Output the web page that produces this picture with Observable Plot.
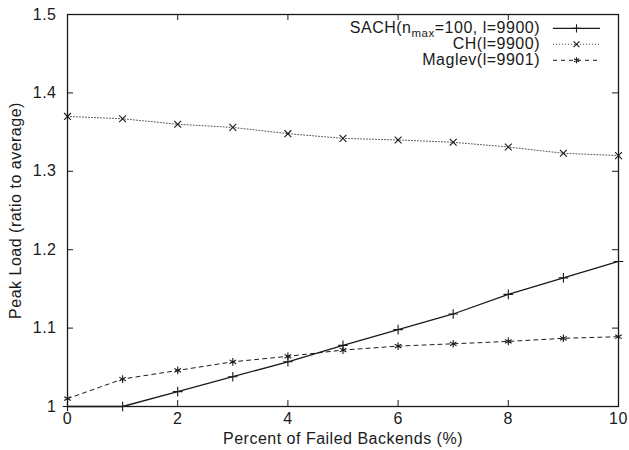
<!DOCTYPE html>
<html>
<head>
<meta charset="utf-8">
<script src="https://cdn.jsdelivr.net/npm/d3@7"></script>
<script src="https://cdn.jsdelivr.net/npm/@observablehq/plot@0.6"></script>
<style>
  html, body { margin: 0; padding: 0; background: #fff; }
</style>
</head>
<body>
<div id="chart"></div>
<script>
const failedPct = [0, 1, 2, 3, 4, 5, 6, 7, 8, 9, 10];
const sach   = [1.000, 1.000, 1.019, 1.038, 1.057, 1.078, 1.098, 1.118, 1.143, 1.164, 1.185];
const ch     = [1.370, 1.367, 1.360, 1.356, 1.348, 1.342, 1.340, 1.337, 1.331, 1.323, 1.320];
const maglev = [1.010, 1.035, 1.046, 1.057, 1.064, 1.072, 1.077, 1.080, 1.083, 1.087, 1.089];
const xTicks = [0, 2, 4, 6, 8, 10];
const yTicks = [1.0, 1.1, 1.2, 1.3, 1.4, 1.5];
const seriesNames = ["SACH", "CH", "Maglev"];

const W = 629, H = 450;
const mt = 14, mr = 11, mb = 44, ml = 67;
const pw = W - ml - mr, ph = H - mt - mb;
const ink = "#1a1a1a";
const FS = 16;
const LS = "0.5px";
const FONT = "'Liberation Sans', Arial, Helvetica, sans-serif";

const rows = failedPct.map((x, i) => ({x, sach: sach[i], ch: ch[i], maglev: maglev[i]}));

const plot = Plot.plot({
  width: W, height: H,
  marginTop: mt, marginRight: mr, marginBottom: mb, marginLeft: ml,
  style: {fontSize: FS + "px", fontFamily: FONT, color: ink, background: "#fff", letterSpacing: LS},
  x: {domain: [0, 10]},
  y: {domain: [1, 1.5]},
  marks: [
    Plot.axisX({ticks: xTicks, tickSize: 0, tickPadding: 6, tickFormat: d => String(d),
      label: "Percent of Failed Backends (%)", labelAnchor: "center", labelOffset: 37, labelArrow: "none"}),
    Plot.axisY({ticks: yTicks, tickSize: 0, tickPadding: 11, tickFormat: d => String(+d.toFixed(1)),
      label: "Peak Load (ratio to average)", labelAnchor: "center", labelOffset: 58, labelArrow: "none"}),
    // inward ticks on all four sides
    Plot.tickY(yTicks, {y: d => d, insetRight: pw - 6, stroke: ink, strokeWidth: 1}),
    Plot.tickY(yTicks, {y: d => d, insetLeft: pw - 6, stroke: ink, strokeWidth: 1}),
    Plot.tickX(xTicks, {x: d => d, insetTop: ph - 6, stroke: ink, strokeWidth: 1}),
    Plot.tickX(xTicks, {x: d => d, insetBottom: ph - 6, stroke: ink, strokeWidth: 1}),
    Plot.frame({stroke: ink, strokeWidth: 1.3}),
    // CH dotted
    Plot.line(rows, {x: "x", y: "ch", stroke: "#555", strokeWidth: 1, strokeDasharray: "1,2"}),
    Plot.dot(rows, {x: "x", y: "ch", symbol: "times", r: 3.2, stroke: ink, strokeWidth: 1.1}),
    // Maglev dashed
    Plot.line(rows, {x: "x", y: "maglev", stroke: ink, strokeWidth: 1, strokeDasharray: "4,4"}),
    Plot.dot(rows, {x: "x", y: "maglev", symbol: "asterisk", r: 3.6, stroke: ink, strokeWidth: 1.1}),
    // SACH solid
    Plot.line(rows, {x: "x", y: "sach", stroke: ink, strokeWidth: 1.3}),
    Plot.dot(rows, {x: "x", y: "sach", symbol: "plus", r: 3.2, stroke: ink, strokeWidth: 1.1})
  ]
});

document.getElementById("chart").appendChild(plot);

// legend (gnuplot style, top right inside the frame)
const svg = d3.select(plot);
svg.selectAll("text").attr("fill", ink);
const legend = svg.append("g")
  .attr("font-family", FONT).attr("letter-spacing", LS)
  .attr("font-size", FS).attr("fill", ink);
const entries = [
  {name: seriesNames[0], dash: null, color: ink, width: 1.3, symbol: d3.symbolPlus},
  {name: seriesNames[1], dash: "1,2", color: "#555", width: 1, symbol: d3.symbolTimes},
  {name: seriesNames[2], dash: "4,4", color: ink, width: 1, symbol: d3.symbolAsterisk}
];
const rowY = [28.3, 44.3, 60.3];
const textRight = 540, lineX1 = 553, lineX2 = 600;
entries.forEach((e, i) => {
  const y = rowY[i];
  const t = legend.append("text").attr("x", textRight).attr("y", y).attr("dy", "0.3em").attr("text-anchor", "end");
  if (i === 0) {
    t.append("tspan").text("SACH(n");
    t.append("tspan").attr("font-size", 11.5).attr("dy", 4).text("max");
    t.append("tspan").attr("dy", -4).text("=100, l=9900)");
  } else if (i === 1) {
    t.text("CH(l=9900)");
  } else {
    t.text("Maglev(l=9901)");
  }
  legend.append("line").attr("x1", lineX1).attr("x2", lineX2).attr("y1", y).attr("y2", y)
    .attr("stroke", e.color).attr("stroke-width", e.width).attr("stroke-dasharray", e.dash);
  legend.append("path").attr("d", d3.symbol(e.symbol, 24)())
    .attr("transform", `translate(${(lineX1 + lineX2) / 2},${y})`)
    .attr("fill", "none").attr("stroke", ink).attr("stroke-width", 1.1);
});
</script>
</body>
</html>
